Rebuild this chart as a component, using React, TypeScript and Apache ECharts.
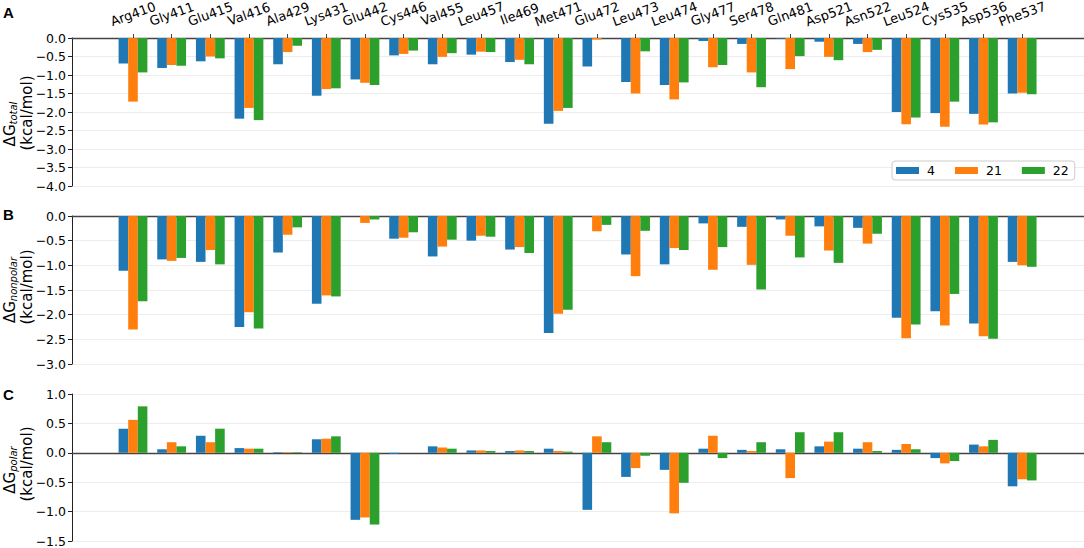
import React, { useEffect, useRef } from 'react';
import * as echarts from 'echarts';

const FONT = 'DejaVu Sans';

const categories = ['Arg410', 'Gly411', 'Glu415', 'Val416', 'Ala429', 'Lys431', 'Glu442', 'Cys446', 'Val455', 'Leu457', 'Ile469', 'Met471', 'Glu472', 'Leu473', 'Leu474', 'Gly477', 'Ser478', 'Gln481', 'Asp521', 'Asn522', 'Leu524', 'Cys535', 'Asp536', 'Phe537'];

const seriesNames = ['4', '21', '22'];
const colors = ['#1f77b4', '#ff7f0e', '#2ca02c'];

// Panel A: ΔG total
const total4 = [-0.69, -0.81, -0.63, -2.18, -0.71, -1.56, -1.12, -0.47, -0.71, -0.45, -0.65, -2.32, -0.77, -1.19, -1.27, -0.08, -0.16, -0.02, -0.10, -0.16, -2.00, -2.03, -2.05, -1.50];
const total21 = [-1.72, -0.73, -0.50, -1.89, -0.38, -1.38, -1.21, -0.43, -0.51, -0.37, -0.59, -1.97, -0.04, -1.50, -1.66, -0.79, -0.93, -0.84, -0.51, -0.38, -2.33, -2.40, -2.34, -1.48];
const total22 = [-0.93, -0.75, -0.55, -2.22, -0.21, -1.36, -1.27, -0.34, -0.41, -0.38, -0.71, -1.89, 0, -0.36, -1.20, -0.73, -1.33, -0.49, -0.60, -0.32, -2.15, -1.72, -2.28, -1.52];

// Panel B: ΔG nonpolar
const nonpolar4 = [-1.11, -0.88, -0.93, -2.25, -0.74, -1.78, 0, -0.46, -0.82, -0.50, -0.68, -2.37, 0, -0.78, -0.98, -0.15, -0.22, -0.07, -0.21, -0.24, -2.06, -1.93, -2.18, -0.93];
const nonpolar21 = [-2.30, -0.91, -0.69, -1.95, -0.38, -1.61, -0.14, -0.44, -0.62, -0.40, -0.63, -1.98, -0.31, -1.22, -0.65, -1.09, -0.99, -0.40, -0.70, -0.56, -2.48, -2.22, -2.44, -1.00];
const nonpolar22 = [-1.73, -0.85, -0.98, -2.28, -0.23, -1.63, -0.07, -0.33, -0.48, -0.42, -0.75, -1.90, -0.18, -0.30, -0.69, -0.63, -1.49, -0.84, -0.95, -0.36, -2.20, -1.58, -2.49, -1.03];

// Panel C: ΔG polar
const polar4 = [0.41, 0.06, 0.29, 0.08, 0.01, 0.23, -1.14, -0.02, 0.11, 0.04, 0.03, 0.07, -0.97, -0.41, -0.29, 0.07, 0.05, 0.06, 0.11, 0.07, 0.05, -0.09, 0.14, -0.57];
const polar21 = [0.56, 0.18, 0.18, 0.07, 0.01, 0.24, -1.10, 0, 0.09, 0.04, 0.04, 0.03, 0.28, -0.26, -1.03, 0.29, 0.03, -0.43, 0.19, 0.18, 0.15, -0.18, 0.11, -0.45];
const polar22 = [0.79, 0.11, 0.41, 0.07, 0.01, 0.28, -1.22, 0, 0.07, 0.03, 0.03, 0.02, 0.18, -0.05, -0.51, -0.09, 0.18, 0.35, 0.35, 0.03, 0.06, -0.14, 0.22, -0.47];

const yTicksA = { min: -4.0, max: 0.0 };
const yTicksB = { min: -3.0, max: 0.0 };
const yTicksC = { min: -1.5, max: 1.0 };

const panels = [
  { letter: 'A', sub: 'total', data: [total4, total21, total22], range: yTicksA },
  { letter: 'B', sub: 'nonpolar', data: [nonpolar4, nonpolar21, nonpolar22], range: yTicksB },
  { letter: 'C', sub: 'polar', data: [polar4, polar21, polar22], range: yTicksC },
];

const gridTops = [38, 216, 394];
const gridHeights = [148, 148, 147];
const letterTops = [5, 207, 387];
const titleLine1Y = [124, 290, 470];
const titleLine2Y = [113, 287, 464];

function fmt(v: number) {
  const s = Math.abs(v).toFixed(1);
  return v < -1e-9 ? '\u2212' + s : s;
}

export default function App() {
  const ref = useRef<HTMLDivElement>(null);
  useEffect(() => {
    document.body.style.margin = '0';
    const chart = echarts.init(ref.current!, null, { renderer: 'svg' });
    const idx = categories.map((_, i) => i);
    const grids = panels.map((_, p) => ({
      left: 72, right: 0, top: gridTops[p], height: gridHeights[p],
      containLabel: false, outerBoundsMode: 'none',
    }));
    const xAxes = panels.map((_, p) => ({
      type: 'value',
      gridIndex: p,
      min: -1.578,
      max: 24.6,
      position: p === 0 ? 'top' : 'bottom',
      splitLine: { show: false },
      axisLine: { show: true, onZero: true, lineStyle: { color: '#444', width: 1.3 } },
      axisTick: p === 0 ? { show: true, length: 4, customValues: idx, lineStyle: { color: '#444' } } : { show: false },
      axisLabel: p === 0 ? {
        show: true,
        customValues: idx,
        rotate: 20,
        align: 'center',
        verticalAlign: 'middle',
        margin: 24,
        fontSize: 13,
        fontFamily: FONT,
        color: '#000',
        formatter: (v: number) => categories[Math.round(v)] ?? '',
      } : { show: false },
    }));
    const yAxes = panels.map((pn, p) => ({
      type: 'value',
      gridIndex: p,
      min: pn.range.min,
      max: pn.range.max,
      interval: 0.5,
      axisLine: { show: true, onZero: false, lineStyle: { color: '#222', width: 1 } },
      axisTick: { show: true, length: 4, lineStyle: { color: '#222' } },
      axisLabel: { margin: 6, fontSize: 12.5, fontFamily: FONT, color: '#000', formatter: fmt },
      splitLine: { show: true, lineStyle: { color: '#e8e8e8', width: 0.8 } },
    }));
    const series: any[] = [];
    panels.forEach((pn, p) => {
      pn.data.forEach((vals, k) => {
        series.push({
          type: 'bar',
          name: seriesNames[k],
          xAxisIndex: p,
          yAxisIndex: p,
          barWidth: 9.6,
          barGap: '0%',
          itemStyle: { color: colors[k] },
          data: vals.map((v, i) => [i, v]),
        });
      });
    });
    const graphics: any[] = [];
    panels.forEach((pn, p) => {
      graphics.push({
        type: 'text',
        left: 3,
        top: letterTops[p],
        style: { text: pn.letter, fontSize: 15, fontWeight: 'bold', fontFamily: 'Liberation Sans', fill: '#000' },
      });
      graphics.push({
        type: 'text',
        x: 10,
        y: titleLine1Y[p],
        rotation: Math.PI / 2,
        style: {
          text: `{d|\u0394G}{s|${pn.sub}}`,
          align: 'center',
          verticalAlign: 'middle',
          fill: '#000',
          rich: {
            d: { fontSize: 15, fontFamily: FONT, fill: '#000' },
            s: { fontSize: 10, fontFamily: FONT, fontStyle: 'italic', fill: '#000', padding: [7, 0, 0, 0] },
          },
        },
      });
      graphics.push({
        type: 'text',
        x: 26.5,
        y: titleLine2Y[p],
        rotation: Math.PI / 2,
        style: {
          text: '(kcal/mol)',
          align: 'center',
          verticalAlign: 'middle',
          fontSize: 15,
          fontFamily: FONT,
          fill: '#000',
        },
      });
    });
    chart.setOption({
      animation: false,
      backgroundColor: '#fff',
      grid: grids,
      xAxis: xAxes,
      yAxis: yAxes,
      series,
      legend: {
        data: seriesNames,
        left: 892,
        top: 161,
        orient: 'horizontal',
        icon: 'rect',
        itemWidth: 23,
        itemHeight: 7,
        itemGap: 20,
        padding: [3, 6, 3, 4],
        borderColor: '#cccccc',
        borderWidth: 1,
        borderRadius: 3,
        backgroundColor: '#ffffff',
        textStyle: { fontSize: 12.5, fontFamily: FONT, color: '#000', padding: [0, 0, 0, 3] },
        z: 10,
      },
      graphic: graphics,
    });
    return () => chart.dispose();
  }, []);
  return <div ref={ref} style={{ width: 1084, height: 548 }} />;
}
